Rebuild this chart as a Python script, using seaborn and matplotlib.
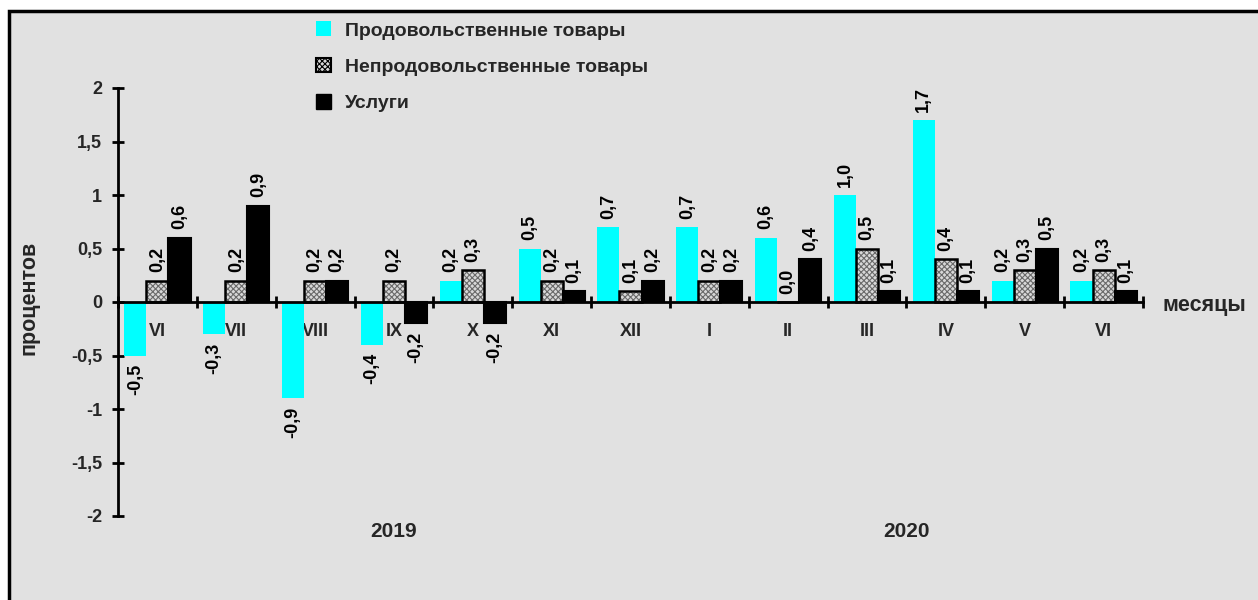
import matplotlib
matplotlib.use("Agg")
import matplotlib.pyplot as plt
from matplotlib.patches import Rectangle, Patch
from matplotlib.ticker import FixedLocator, FuncFormatter
import numpy as np
import pandas as pd
import seaborn as sns

# Monthly change, percent
months = ["VI", "VII", "VIII", "IX", "X", "XI", "XII", "I", "II", "III", "IV", "V", "VI"]
years = ["2019", "2020"]
year_spans = [(0, 6), (7, 12)]
series_names = ["Продовольственные товары", "Непродовольственные товары", "Услуги"]
food = [-0.5, -0.3, -0.9, -0.4, 0.2, 0.5, 0.7, 0.7, 0.6, 1.0, 1.7, 0.2, 0.2]
nonfood = [0.2, 0.2, 0.2, 0.2, 0.3, 0.2, 0.1, 0.2, 0.0, 0.5, 0.4, 0.3, 0.3]
services = [0.6, 0.9, 0.2, -0.2, -0.2, 0.1, 0.2, 0.2, 0.4, 0.1, 0.1, 0.5, 0.1]
y_ticks = [-2, -1.5, -1, -0.5, 0, 0.5, 1, 1.5, 2]

sns.set_theme(style="white")
plt.rcParams["font.family"] = ["Liberation Sans", "DejaVu Sans"]
plt.rcParams["font.weight"] = "bold"
plt.rcParams["hatch.linewidth"] = 0.8

BG = "#e1e1e1"
colors = {series_names[0]: "#00ffff", series_names[1]: "#c4c4c4", series_names[2]: "#000000"}


def comma(v):
    return f"{v:.1f}".replace(".", ",")


rows = []
for i in range(len(months)):
    for name, vals in zip(series_names, [food, nonfood, services]):
        rows.append({"pos": i, "series": name, "value": vals[i]})
df = pd.DataFrame(rows)

fig = plt.figure(figsize=(12.58, 6.0), dpi=100)
fig.patch.set_facecolor("white")
# framed grey panel
fig.add_artist(Rectangle((9 / 1258, -0.1), 1.2, 1 - 11 / 600 + 0.1,
                         transform=fig.transFigure, facecolor=BG,
                         edgecolor="black", lw=2.5, zorder=-10))

ax = fig.add_axes([118 / 1258, 1 - 516 / 600, (1143 - 118) / 1258, (516 - 88) / 600])
ax.set_facecolor("none")

sns.barplot(data=df, x="pos", y="value", hue="series", hue_order=series_names,
            palette=colors, width=0.84, gap=0, dodge=True, ax=ax,
            legend=False, errorbar=None, saturation=1)

cont_food, cont_nonfood, cont_serv = ax.containers[:3]
for p in cont_food:
    p.set_edgecolor("none")
    p.set_linewidth(0)
for p in cont_nonfood:
    p.set_facecolor("#d8d8d8")
    p.set_edgecolor("#6a6a6a")
    p.set_hatch("xxxxxx")
    p.set_linewidth(0)
    ax.add_patch(Rectangle(p.get_xy(), p.get_width(), p.get_height(),
                           fill=False, edgecolor="black", lw=1.8, zorder=p.get_zorder() + 0.1))
for p in cont_serv:
    p.set_edgecolor("black")
    p.set_linewidth(1.5)

for cont, vals in zip([cont_food, cont_nonfood, cont_serv], [food, nonfood, services]):
    ax.bar_label(cont, labels=[comma(v) for v in vals], rotation=90, padding=6,
                 fontsize=13, fontweight="bold", color="black")

ax.set_xlim(-0.5, len(months) - 0.5)
ax.set_ylim(-2, 2)

for s in ["top", "right"]:
    ax.spines[s].set_visible(False)
ax.spines["left"].set_linewidth(2)
ax.spines["left"].set_color("black")
ax.spines["bottom"].set_position(("data", 0))
ax.spines["bottom"].set_linewidth(2)
ax.spines["bottom"].set_color("black")
ax.spines["bottom"].set_zorder(5)

ax.yaxis.set_major_locator(FixedLocator(y_ticks))
ax.yaxis.set_major_formatter(FuncFormatter(lambda v, _: (f"{v:g}").replace(".", ",")))
ax.tick_params(axis="y", direction="inout", length=9, width=2, color="black",
               labelsize=13, pad=7, left=True)
for t in ax.get_yticklabels():
    t.set_fontweight("bold")

ax.set_xticks(range(len(months)))
ax.set_xticklabels(months, fontsize=13, fontweight="bold")
ax.set_xticks(np.arange(-0.5, len(months)), minor=True)
ax.tick_params(axis="x", which="major", length=0, pad=15, bottom=True)
ax.tick_params(axis="x", which="minor", direction="inout", length=9, width=2,
               color="black", bottom=True)
ax.set_xlabel("")
ax.set_ylabel("")

for yr, (a, b) in zip(years, year_spans):
    ax.text((a + b) / 2, -2.06, yr, ha="center", va="top", fontsize=15,
            fontweight="bold", transform=ax.transData)

fig.text(1204 / 1258, 1 - 305 / 600, "месяцы", ha="center", va="center",
         fontsize=15.5, fontweight="bold")
fig.text(29 / 1258, 1 - 298 / 600, "процентов", ha="center", va="center",
         rotation=90, fontsize=15.5, fontweight="bold")

handles = [
    Patch(facecolor="#00ffff", edgecolor="none"),
    Patch(facecolor="#d8d8d8", edgecolor="black", hatch="xxxxxx", lw=1.5),
    Patch(facecolor="black", edgecolor="black"),
]
leg = fig.legend(handles, series_names, loc="upper left",
                 bbox_to_anchor=(298 / 1258, 1 - 4 / 600), frameon=False,
                 handlelength=0.8, handleheight=0.8, handletextpad=0.7,
                 labelspacing=0.92, prop={"size": 14, "weight": "bold"})

fig.savefig("out.png", dpi=100, facecolor=fig.get_facecolor())
